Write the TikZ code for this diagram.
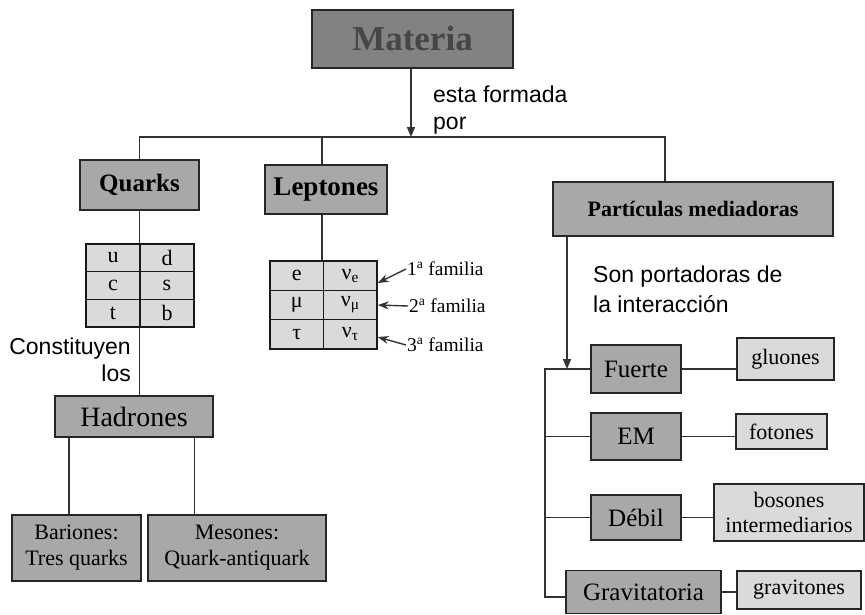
\documentclass[tikz,border=0pt]{standalone}
\usepackage{fontspec}
\setmainfont{Liberation Serif}
\newfontfamily\hand{Liberation Sans}
\usetikzlibrary{arrows.meta}
\definecolor{dgray}{RGB}{130,130,130}
\definecolor{mgray}{RGB}{168,168,168}
\definecolor{lgray}{RGB}{218,218,218}
\definecolor{mtext}{RGB}{70,70,70}
\tikzset{
  box/.style={draw=black!85, line width=1.4pt, fill=mgray, inner sep=0pt, align=center, font=\fontsize{22}{26}\selectfont},
  mbox/.style={box, font=\fontsize{25}{28}\selectfont},
  lbox/.style={box, fill=lgray, font=\fontsize{22}{25}\selectfont},
  cell/.style={draw=black!90, line width=1.4pt, fill=lgray, inner sep=0pt, font=\fontsize{22}{24}\selectfont},
  conn/.style={draw=black!80, line width=1.4pt},
  arr/.style={conn, -{Triangle[length=10pt,width=8pt]}},
  farr/.style={conn, -{Stealth[length=11pt,width=8pt]}},
  hand/.style={font=\hand\fontsize{23}{27}\selectfont, align=left, inner sep=0pt, anchor=west},
  fam/.style={font=\fontsize{19.5}{22}\selectfont, inner sep=1pt, anchor=west}
}
\begin{document}
\begin{tikzpicture}[x=1pt,y=-1pt]
\useasboundingbox (0,0) rectangle (865,614);
% top
\node[box, fill=dgray, minimum width=201pt, minimum height=58pt, font=\bfseries\fontsize{35}{38}\selectfont, text=mtext] (materia) at (412.5,39) {Materia};
\node[hand] (formada) at (433,110) {esta formada\\por};
% level 1
\node[box, minimum width=119pt, minimum height=50pt, font=\bfseries\fontsize{25}{28}\selectfont] (quarks) at (139.5,185) {Quarks};
\node[box, minimum width=122pt, minimum height=49pt, font=\bfseries\fontsize{27}{30}\selectfont] (leptones) at (326,189.5) {Leptones};
\node[box, minimum width=280pt, minimum height=54pt, font=\bfseries\fontsize{22}{25}\selectfont] (part) at (693,209) {Partículas mediadoras};
\coordinate (hbar) at (0,137);
\coordinate (xq) at (139.5,0);
\coordinate (xl) at (322,0);
\coordinate (xp) at (665,0);
\draw[arr] (materia.south -| 411,0) -- (hbar -| 411,0);
\draw[conn] (xq |- quarks.north) -- (xq |- hbar) -- (xp |- hbar) -- (xp |- part.north);
\draw[conn] (xl |- hbar) -- (xl |- leptones.north);
% quark table
\node[cell, minimum width=54pt, minimum height=27.7pt] (qu) at (113,257.8) {u};
\node[cell, minimum width=54pt, minimum height=27.7pt] (qd) at (167,257.8) {d};
\node[cell, minimum width=54pt, minimum height=27.7pt] (qc) at (113,285.5) {c};
\node[cell, minimum width=54pt, minimum height=27.7pt] (qs) at (167,285.5) {s};
\node[cell, minimum width=54pt, minimum height=27.7pt] (qt) at (113,313.2) {t};
\node[cell, minimum width=54pt, minimum height=27.7pt] (qb) at (167,313.2) {b};
\draw[conn] (xq |- quarks.south) -- (xq |- qu.north);
% hadrones
\node[box, minimum width=158pt, minimum height=41pt, font=\fontsize{28}{30}\selectfont] (hadrones) at (134,416.5) {Hadrones};
\draw[conn] (xq |- qt.south) -- (xq |- hadrones.north);
\node[hand, anchor=north east, align=right] (const) at (131,338) {Constituyen\\los\hspace{6pt}};
\node[box, minimum width=129pt, minimum height=66pt] (bar) at (76.5,548) {Bariones:\\Tres quarks};
\node[box, minimum width=178pt, minimum height=66pt] (mes) at (237,548) {Mesones:\\Quark-antiquark};
\coordinate (xb) at (69,0);
\coordinate (xm) at (194.5,0);
\draw[conn] (xb |- hadrones.south) -- (xb |- bar.north);
\draw[conn] (xm |- hadrones.south) -- (xm |- mes.north);
% lepton table
\node[cell, minimum width=53.5pt, minimum height=29.3pt] (le) at (296.75,275.7) {e};
\node[cell, minimum width=53.5pt, minimum height=29.3pt] (lne) at (350.25,275.7) {ν\textsubscript{e}};
\node[cell, minimum width=53.5pt, minimum height=29.3pt] (lm) at (296.75,305) {μ};
\node[cell, minimum width=53.5pt, minimum height=29.3pt] (lnm) at (350.25,305) {ν\textsubscript{μ}};
\node[cell, minimum width=53.5pt, minimum height=29.3pt] (lt) at (296.75,334.3) {τ};
\node[cell, minimum width=53.5pt, minimum height=29.3pt] (lnt) at (350.25,334.3) {ν\textsubscript{τ}};
\draw[conn] (xl |- leptones.south) -- (xl |- le.north);
\node[fam] (f1) at (406,269) {1\textsuperscript{a} familia};
\node[fam] (f2) at (408,306) {2\textsuperscript{a} familia};
\node[fam] (f3) at (406,345) {3\textsuperscript{a} familia};
\draw[farr] (f1.west) -- (lne.east |- 0,283);
\draw[farr] (f2.west) -- (lnm.east);
\draw[farr] (f3.west) -- (lnt.east |- 0,337);
% mediators
\node[hand] (son) at (593,289) {Son portadoras de\\[3pt]la interacción};
\node[mbox, minimum width=90pt, minimum height=48pt] (fuerte) at (636,369) {Fuerte};
\node[mbox, minimum width=90pt, minimum height=47pt] (em) at (636,436.5) {EM};
\node[mbox, minimum width=90pt, minimum height=45pt] (debil) at (636,517.5) {Débil};
\node[mbox, minimum width=155pt, minimum height=43pt] (grav) at (643.5,592) {Gravitatoria};
\node[lbox, minimum width=97pt, minimum height=42pt] (glu) at (785.5,359) {gluones};
\node[lbox, minimum width=91pt, minimum height=35pt] (fot) at (781.5,431.5) {fotones};
\node[lbox, minimum width=150pt, minimum height=57pt] (bos) at (789,512.5) {bosones\\intermediarios};
\node[lbox, minimum width=124pt, minimum height=38pt] (gvt) at (799,590) {gravitones};
\coordinate (xa) at (567,0);
\coordinate (xbr) at (545,0);
\draw[arr] (xa |- part.south) -- (xa |- fuerte.west);
\draw[conn] (fuerte.west) -- (xbr |- fuerte.west) -- (xbr |- 0,597) -- (grav.west |- 0,597);
\draw[conn] (xbr |- em.west) -- (em.west);
\draw[conn] (xbr |- debil.west) -- (debil.west);
\draw[conn] (fuerte.east) -- (fuerte.east -| glu.west);
\draw[conn] (em.east) -- (em.east -| fot.west);
\draw[conn] (debil.east) -- (debil.east -| bos.west);
\draw[conn] (grav.east) -- (grav.east -| gvt.west);
\end{tikzpicture}
\end{document}
